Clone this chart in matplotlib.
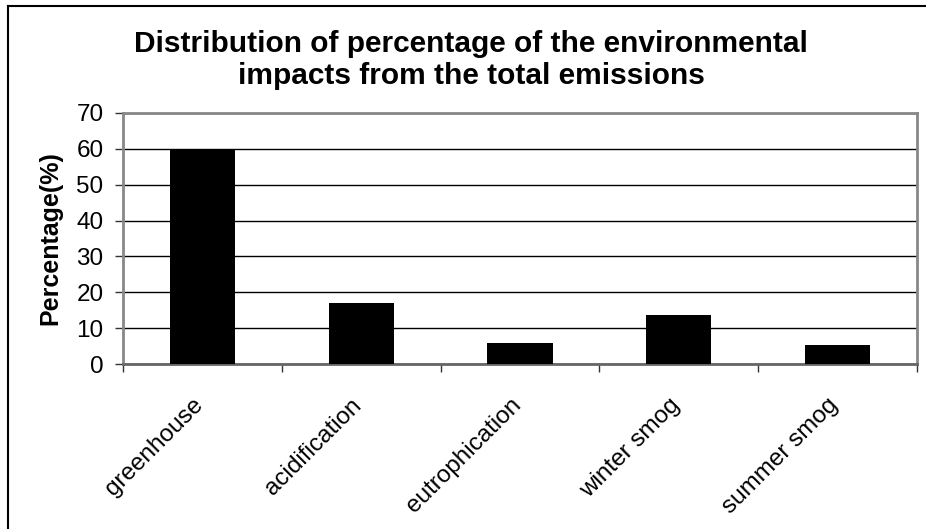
import matplotlib.pyplot as plt
import matplotlib.lines as mlines
import numpy as np

plt.rcParams['font.family'] = ['Liberation Sans', 'DejaVu Sans']

categories = ['greenhouse', 'acidification', 'eutrophication', 'winter smog', 'summer smog']
values = [59.6, 17.0, 5.8, 13.8, 5.2]
yticks = [0, 10, 20, 30, 40, 50, 60, 70]

fig = plt.figure(figsize=(9.26, 5.29), dpi=100)
ax = fig.add_axes([0.1328, 0.3119, 0.8575, 0.4745])

x = np.arange(len(categories))
ax.bar(x, values, width=0.41, color='black', zorder=3)

ax.set_xlim(-0.5, len(categories) - 0.5)
ax.set_ylim(0, 70)
ax.set_yticks(yticks)
ax.set_yticklabels([str(t) for t in yticks], fontsize=17.5)
ax.yaxis.grid(True, color='black', linewidth=1.0)
ax.set_axisbelow(True)

# category boundaries as tick marks
ax.set_xticks(np.arange(len(categories) + 1) - 0.5)
ax.set_xticklabels([])
ax.tick_params(axis='x', direction='out', length=6, width=1, color='#333333')
ax.tick_params(axis='y', direction='out', length=6, width=1, color='#333333', pad=8)
for i, c in enumerate(categories):
    ax.text(i - 0.065, -0.12, c, rotation=45, ha='right', va='top',
            rotation_mode='anchor', fontsize=17.5,
            transform=ax.get_xaxis_transform())

for s in ['top', 'right', 'left']:
    ax.spines[s].set_color('#888888')
    ax.spines[s].set_linewidth(2)
ax.spines['bottom'].set_color('#666666')
ax.spines['bottom'].set_linewidth(2)

ax.set_ylabel('Percentage(%)', fontsize=18, fontweight='bold', labelpad=10)
fig.text(0.509, 0.887, 'Distribution of percentage of the environmental\nimpacts from the total emissions',
         ha='center', va='center', fontsize=21.5, fontweight='bold', linespacing=1.2)

# outer chart frame (only left and top edges visible in the crop)
fig.add_artist(mlines.Line2D([8 / 926, 8 / 926], [0, 1 - 6 / 529], transform=fig.transFigure,
                             color='black', linewidth=1.5))
fig.add_artist(mlines.Line2D([8 / 926, 1], [1 - 6 / 529, 1 - 6 / 529], transform=fig.transFigure,
                             color='black', linewidth=1.5))

fig.savefig('out.png', dpi=100)
